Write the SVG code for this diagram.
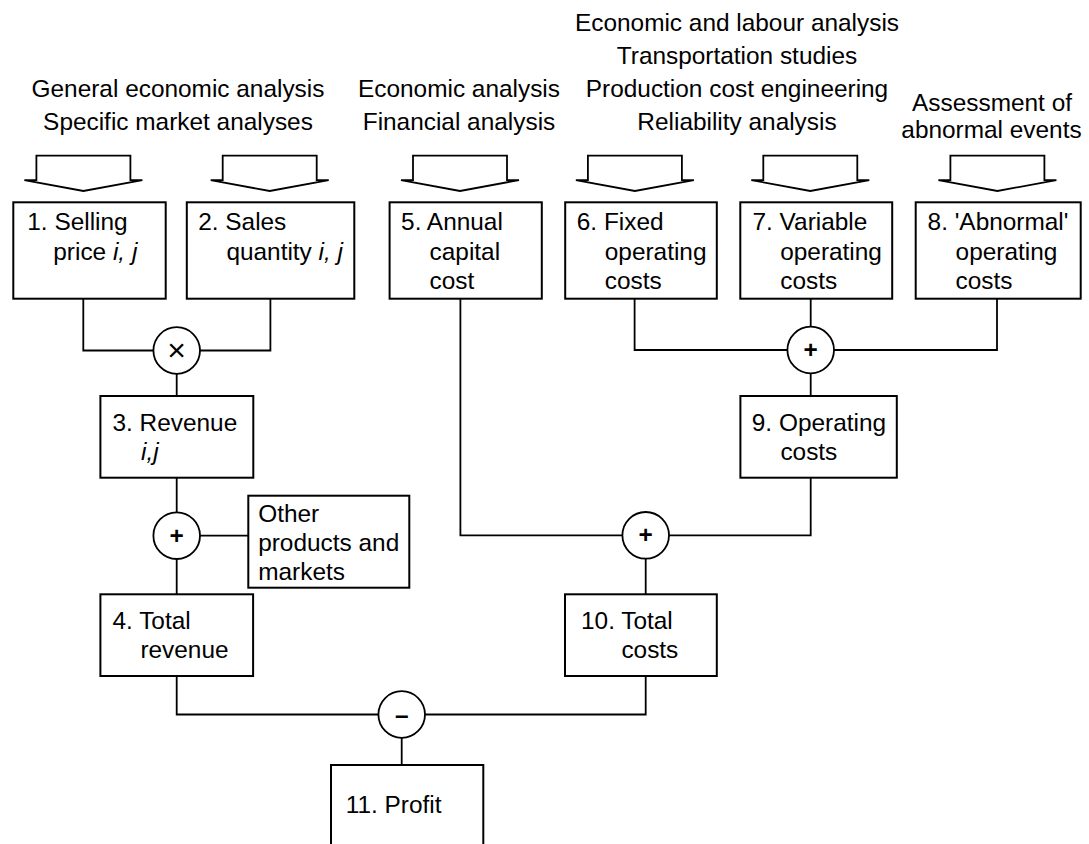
<svg xmlns="http://www.w3.org/2000/svg" width="1089" height="844" viewBox="0 0 1089 844">
<style>
 .box{fill:#fff;stroke:#000;stroke-width:2}
 .ln{fill:none;stroke:#000;stroke-width:1.8}
 .op{fill:#fff;stroke:#000;stroke-width:1.8}
 .arr{fill:#fff;stroke:#000;stroke-width:1.8}
 text{font-family:"Liberation Sans",Arial,Helvetica,sans-serif;font-size:24.4px;fill:#000}
 .c{text-anchor:middle}
 .sym{text-anchor:middle;font-weight:bold}
 .it{font-style:italic}
</style>
<defs>
 <polygon id="arrow" class="arr" points="-47,0 47,0 47,24.4 59,24.4 0,35.3 -59,24.4 -47,24.4"/>
</defs>
<rect width="1089" height="844" fill="#fff"/>

<g id="inputs">
 <text class="c" x="178" y="97">General economic analysis</text>
 <text class="c" x="178" y="130">Specific market analyses</text>
 <text class="c" x="459" y="97">Economic analysis</text>
 <text class="c" x="459" y="130">Financial analysis</text>
 <text class="c" x="737" y="31">Economic and labour analysis</text>
 <text class="c" x="737" y="63.5">Transportation studies</text>
 <text class="c" x="737" y="97">Production cost engineering</text>
 <text class="c" x="737" y="130">Reliability analysis</text>
 <text class="c" x="992" y="111">Assessment of</text>
 <text class="c" x="991.5" y="138">abnormal events</text>
 <use href="#arrow" x="83.4" y="155.7"/>
 <use href="#arrow" x="269.7" y="155.7"/>
 <use href="#arrow" x="460" y="155.7"/>
 <use href="#arrow" x="634.9" y="155.7"/>
 <use href="#arrow" x="810.3" y="155.7"/>
 <use href="#arrow" x="997.4" y="155.7"/>
</g>

<g id="connectors">
 <polyline class="ln" points="83.3,298.7 83.3,350.5 270.4,350.5 270.4,298.7"/>
 <line class="ln" x1="176.7" y1="373.8" x2="176.7" y2="396"/>
 <line class="ln" x1="176.7" y1="477.7" x2="176.7" y2="512.4"/>
 <line class="ln" x1="176.7" y1="559" x2="176.7" y2="594.3"/>
 <line class="ln" x1="200" y1="535.7" x2="248.3" y2="535.7"/>
 <polyline class="ln" points="176.7,676 176.7,714.5 645.7,714.5 645.7,676"/>
 <line class="ln" x1="401.7" y1="737.8" x2="401.7" y2="765"/>
 <polyline class="ln" points="460.4,298.7 460.4,535.3 810.7,535.3 810.7,477.7"/>
 <line class="ln" x1="645.7" y1="558.6" x2="645.7" y2="594.3"/>
 <polyline class="ln" points="634.6,298.7 634.6,350 997,350 997,298.7"/>
 <line class="ln" x1="810.7" y1="298.7" x2="810.7" y2="326.7"/>
 <line class="ln" x1="810.7" y1="373.3" x2="810.7" y2="396"/>
</g>

<g id="op-times">
 <circle class="op" cx="176.7" cy="350.5" r="23.3"/>
 <text class="c" x="176.7" y="360.5" style="font-size:32px">×</text>
</g>
<g id="op-plus-revenue">
 <circle class="op" cx="176.7" cy="535.7" r="23.3"/>
 <text class="sym" x="176.7" y="543.7">+</text>
</g>
<g id="op-minus">
 <circle class="op" cx="401.7" cy="714.5" r="23.3"/>
 <text class="sym" x="401.7" y="723">–</text>
</g>
<g id="op-plus-total">
 <circle class="op" cx="645.7" cy="535.3" r="23.3"/>
 <text class="sym" x="645.7" y="543.3">+</text>
</g>
<g id="op-plus-operating">
 <circle class="op" cx="810.7" cy="350" r="23.3"/>
 <text class="sym" x="810.7" y="358">+</text>
</g>

<g id="n1">
 <rect class="box" x="13.3" y="202.3" width="152.4" height="96.4"/>
 <text x="27.3" y="230">1. Selling</text>
 <text x="53.3" y="259.5">price <tspan class="it">i, j</tspan></text>
</g>
<g id="n2">
 <rect class="box" x="186.8" y="202.3" width="167.5" height="96.4"/>
 <text x="198.2" y="230">2. Sales</text>
 <text x="226.4" y="259.5">quantity <tspan class="it">i, j</tspan></text>
</g>
<g id="n5">
 <rect class="box" x="389.6" y="202.3" width="152.2" height="96.4"/>
 <text x="401.1" y="230">5. Annual</text>
 <text x="429.6" y="259.5">capital</text>
 <text x="429.6" y="288.5">cost</text>
</g>
<g id="n6">
 <rect class="box" x="565.2" y="202.3" width="151.6" height="96.4"/>
 <text x="576.8" y="230">6. Fixed</text>
 <text x="604.8" y="259.5">operating</text>
 <text x="604.8" y="288.5">costs</text>
</g>
<g id="n7">
 <rect class="box" x="740.3" y="202.3" width="151.9" height="96.4"/>
 <text x="752.5" y="230">7. Variable</text>
 <text x="780.2" y="259.5">operating</text>
 <text x="780.2" y="288.5">costs</text>
</g>
<g id="n8">
 <rect class="box" x="915.7" y="202.3" width="165" height="96.4"/>
 <text x="927.6" y="230">8. 'Abnormal'</text>
 <text x="955.6" y="259.5">operating</text>
 <text x="955.6" y="288.5">costs</text>
</g>
<g id="n3">
 <rect class="box" x="100.4" y="396" width="152.9" height="81.7"/>
 <text x="112.5" y="431">3. Revenue</text>
 <text x="141" y="460" class="it">i,j</text>
</g>
<g id="n-other">
 <rect class="box" x="248.3" y="495.7" width="161" height="92"/>
 <text x="258.2" y="521.7">Other</text>
 <text x="258.2" y="550.7">products and</text>
 <text x="258.2" y="579.5">markets</text>
</g>
<g id="n4">
 <rect class="box" x="100.4" y="594.3" width="152.7" height="81.7"/>
 <text x="112.5" y="629">4. Total</text>
 <text x="140.4" y="658.3">revenue</text>
</g>
<g id="n9">
 <rect class="box" x="740.4" y="396" width="156.4" height="81.7"/>
 <text x="751.8" y="431">9. Operating</text>
 <text x="780.4" y="460">costs</text>
</g>
<g id="n10">
 <rect class="box" x="565" y="594.3" width="151.8" height="81.7"/>
 <text x="581" y="629">10. Total</text>
 <text x="621.4" y="658.3">costs</text>
</g>
<g id="n11">
 <rect class="box" x="331" y="765" width="152.3" height="90"/>
 <text x="345.7" y="813.3">11. Profit</text>
</g>
</svg>
